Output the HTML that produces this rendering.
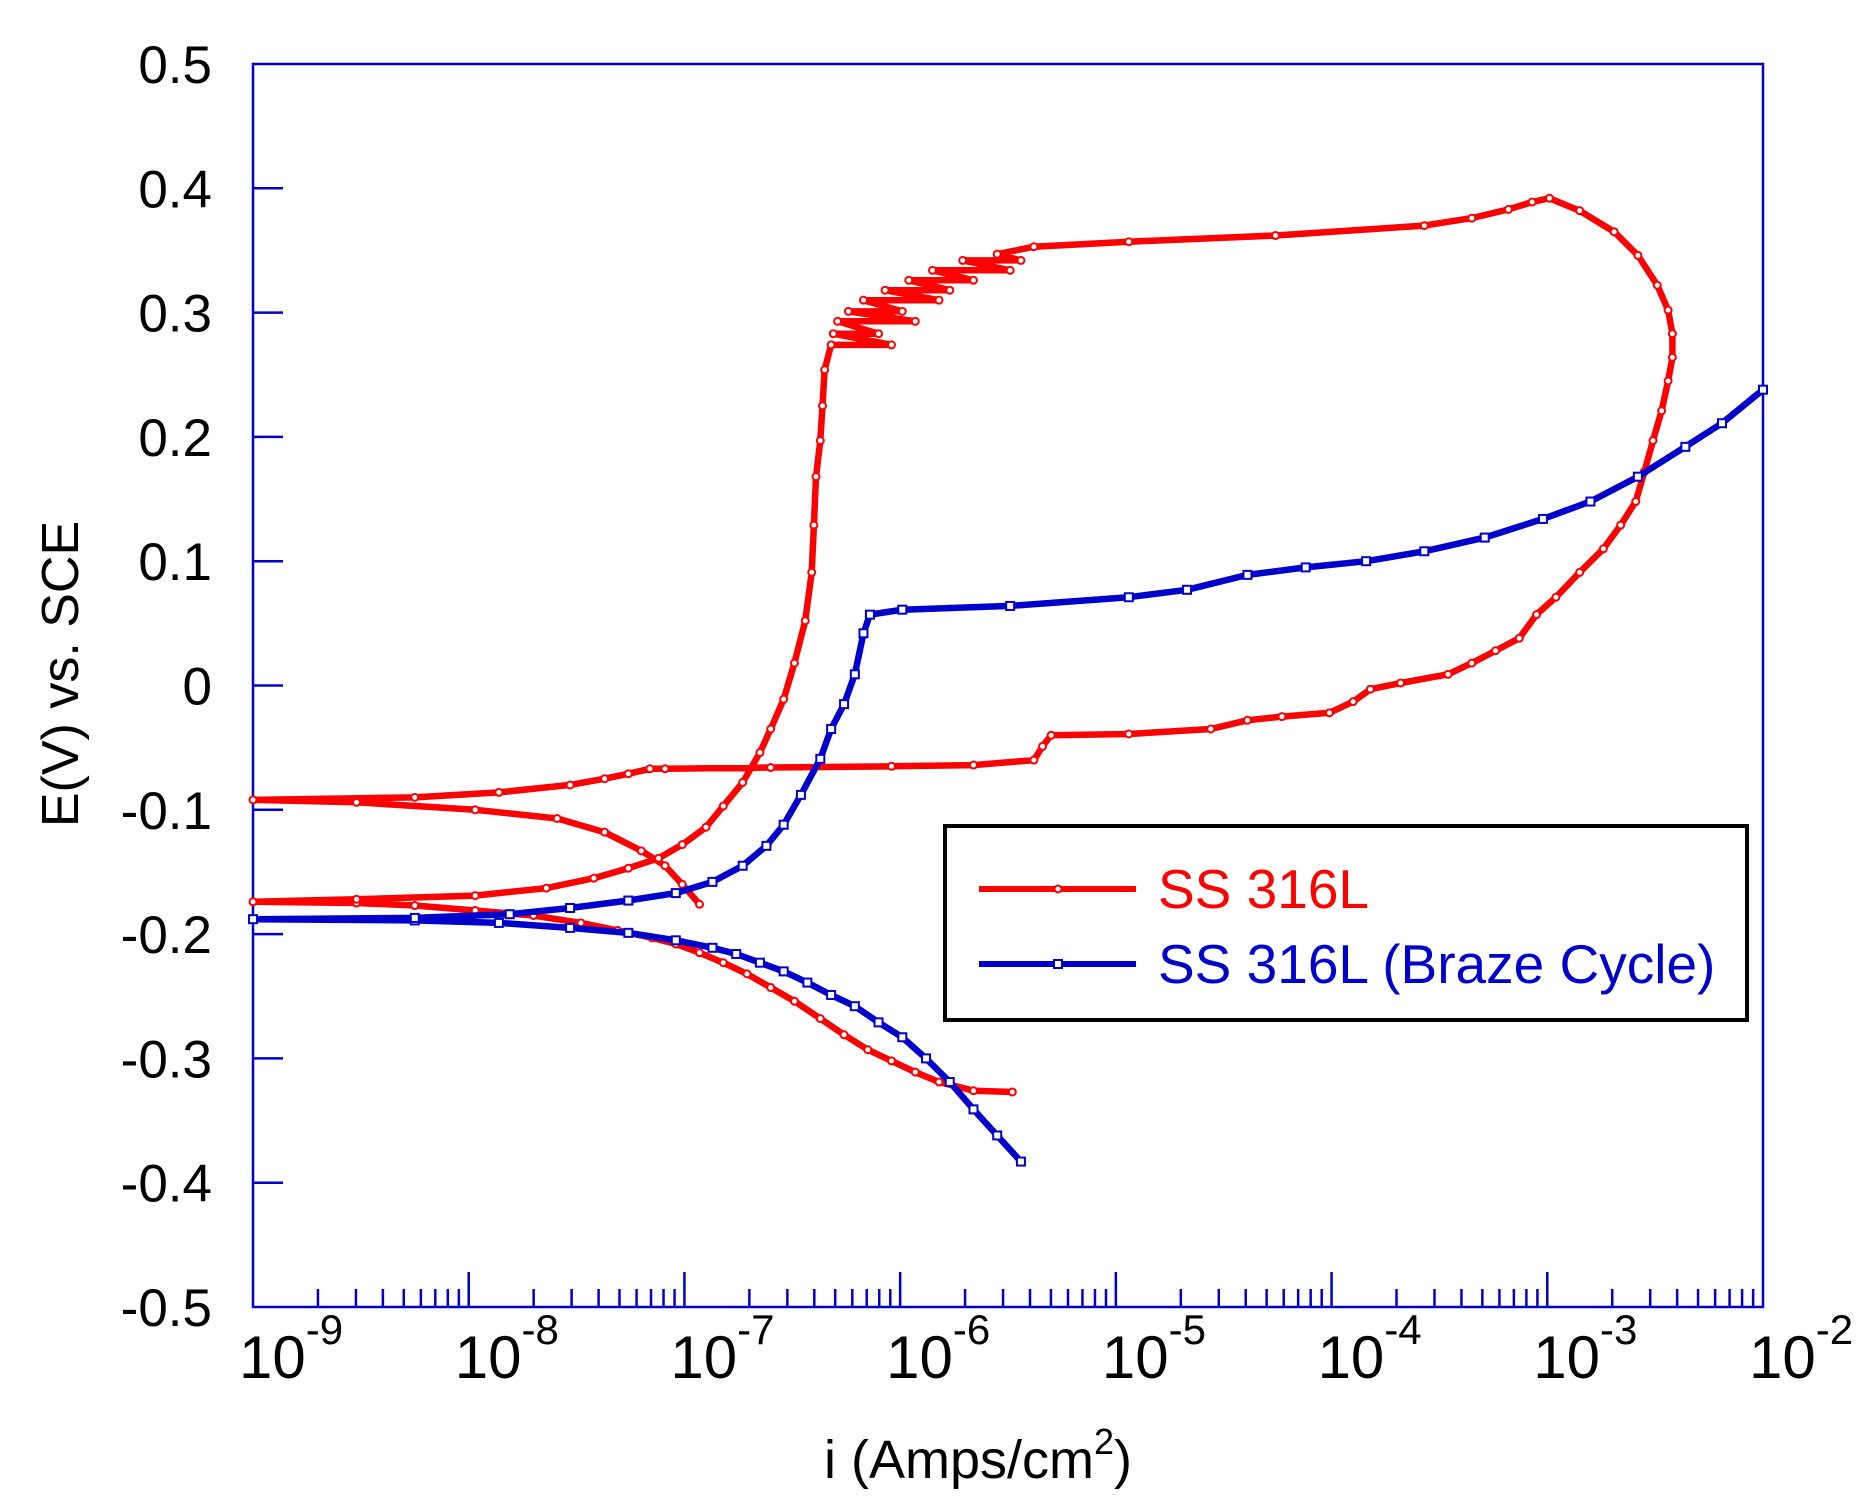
<!DOCTYPE html>
<html><head><meta charset="utf-8"><style>
html,body{margin:0;padding:0;background:#fff}
svg{display:block;font-family:"Liberation Sans",Arial,sans-serif}
</style></head><body>
<svg id="chart" width="1862" height="1510" viewBox="0 0 1862 1510" xmlns="http://www.w3.org/2000/svg">
<g id="axes"></g>
<g id="series"></g>
<text transform="translate(78,674) rotate(-90)" text-anchor="middle" font-size="52" fill="#000">E(V) vs. SCE</text>
<text x="978" y="1478" text-anchor="middle" font-size="54" fill="#000">i (Amps/cm<tspan font-size="36" dy="-24">2</tspan><tspan dy="24">)</tspan></text>
<g>
<rect x="945" y="826" width="802" height="194" fill="#fff" stroke="#000" stroke-width="4"/>
<line x1="979" y1="889" x2="1136" y2="889" stroke="#ff0000" stroke-width="6"/>
<circle cx="1058" cy="889" r="3.5" fill="#fff" stroke="#ff0000" stroke-width="2"/>
<text x="1158" y="908" font-size="55" fill="#ff0000">SS 316L</text>
<line x1="979" y1="964" x2="1136" y2="964" stroke="#0000cc" stroke-width="6"/>
<rect x="1054" y="960" width="8" height="8" fill="#fff" stroke="#0000cc" stroke-width="2"/>
<text x="1158" y="983" font-size="55" fill="#0000cc">SS 316L (Braze Cycle)</text>
</g>
</svg>
<script>
// Data: log10(i) and E(V)
const redLogI=[-5.48,-5.66,-5.82,-5.93,-6.04,-6.15,-6.26,-6.37,-6.49,-6.60,-6.71,-6.82,-6.93,-7.04,-7.15,-7.31,-7.48,-7.70,-7.97,-8.25,-8.52,-9.00,
-8.52,-7.97,-7.64,-7.42,-7.26,-7.12,-7.01,-6.90,-6.82,-6.73,-6.65,-6.60,-6.54,-6.49,-6.44,-6.41,-6.40,-6.39,-6.37,-6.36,-6.35,
-6.32,-6.04,-6.31,-6.10,-6.29,-5.93,-6.24,-5.99,-6.17,-5.82,-6.07,-5.77,-5.96,-5.66,-5.85,-5.49,-5.71,-5.44,-5.55,-5.38,
-4.94,-4.26,-3.57,-3.35,-3.18,-3.07,-2.99,-2.85,-2.69,-2.58,-2.49,-2.44,-2.42,-2.42,-2.44,-2.47,-2.51,-2.55,-2.59,-2.66,-2.74,-2.85,-2.96,-3.05,-3.13,-3.24,-3.35,-3.46,-3.68,-3.82,-3.90,-4.01,-4.23,-4.39,-4.56,-4.94,-5.30,-5.34,-5.38,-5.66,-6.04,-6.60,-7.09,-7.16,-7.26,-7.37,-7.53,-7.86,-8.25,-9.00,
-8.52,-7.97,-7.59,-7.37,-7.20,-7.09,-7.01,-6.93];
const redE=[-0.327,-0.326,-0.319,-0.311,-0.302,-0.293,-0.281,-0.268,-0.254,-0.243,-0.232,-0.223,-0.215,-0.208,-0.203,-0.197,-0.191,-0.185,-0.181,-0.177,-0.175,-0.174,
-0.172,-0.169,-0.163,-0.155,-0.147,-0.139,-0.128,-0.114,-0.097,-0.078,-0.054,-0.035,-0.011,0.018,0.052,0.091,0.129,0.168,0.197,0.225,0.254,
0.274,0.274,0.283,0.283,0.293,0.293,0.301,0.301,0.310,0.310,0.318,0.318,0.326,0.326,0.334,0.334,0.342,0.342,0.347,0.353,
0.357,0.362,0.370,0.376,0.383,0.389,0.392,0.382,0.365,0.346,0.322,0.302,0.283,0.264,0.245,0.221,0.197,0.172,0.148,0.129,0.110,0.091,0.071,0.057,0.038,0.028,0.018,0.009,0.002,-0.003,-0.013,-0.022,-0.025,-0.028,-0.035,-0.039,-0.040,-0.049,-0.060,-0.064,-0.065,-0.066,-0.067,-0.067,-0.071,-0.075,-0.080,-0.086,-0.090,-0.092,
-0.094,-0.100,-0.107,-0.118,-0.133,-0.145,-0.160,-0.176];
const blueLogI=[-5.44,-5.55,-5.66,-5.77,-5.88,-5.99,-6.10,-6.21,-6.32,-6.43,-6.54,-6.65,-6.76,-6.87,-7.04,-7.26,-7.53,-7.86,-8.25,-9.00,
-8.25,-7.81,-7.53,-7.26,-7.04,-6.87,-6.73,-6.62,-6.54,-6.46,-6.37,-6.32,-6.26,-6.21,-6.17,-6.14,-5.99,-5.49,-4.94,-4.67,-4.39,-4.12,-3.84,-3.57,-3.29,-3.02,-2.80,-2.58,-2.36,-2.19,-2.00];
const blueE=[-0.383,-0.362,-0.341,-0.319,-0.300,-0.283,-0.271,-0.258,-0.249,-0.239,-0.230,-0.223,-0.216,-0.211,-0.205,-0.199,-0.195,-0.191,-0.189,-0.188,
-0.187,-0.184,-0.179,-0.173,-0.167,-0.158,-0.145,-0.129,-0.112,-0.088,-0.059,-0.035,-0.015,0.009,0.042,0.057,0.061,0.064,0.071,0.077,0.089,0.095,0.100,0.108,0.119,0.134,0.148,0.168,0.192,0.211,0.238];
const xDecades=[-9,-8,-7,-6,-5,-4,-3,-2];
const yTicks=[0.5,0.4,0.3,0.2,0.1,0,-0.1,-0.2,-0.3,-0.4,-0.5];
const yTickLabels=["0.5","0.4","0.3","0.2","0.1","0","-0.1","-0.2","-0.3","-0.4","-0.5"];

const L=253,R=1763,T=64,B=1307;
const X=v=>L+(v-(-9))/7*(R-L);
const Y=e=>T+(0.5-e)/1.0*(B-T);
const NS="http://www.w3.org/2000/svg";
function mk(tag,attrs,parent){const el=document.createElementNS(NS,tag);for(const k in attrs)el.setAttribute(k,attrs[k]);parent.appendChild(el);return el;}
const axes=document.getElementById('axes');
const blue="#0000cc";
let f=mk('path',{d:`M${L},${T}H${R}V${B}H${L}Z`,fill:'none',stroke:blue,'stroke-width':2.5},axes);


yTicks.forEach((v,i)=>{
  if(i>0&&i<yTicks.length-1){
    const t=mk('line',{x1:L,x2:L+30,y1:Y(v),y2:Y(v),stroke:blue,'stroke-width':2.5},axes);
    
    
  }
  const tx=mk('text',{x:212,y:Y(v)+19,'text-anchor':'end','font-size':53,fill:'#000'},axes);
  
  
  tx.textContent=yTickLabels[i];
});
xDecades.forEach((d,i)=>{
  const x=X(d);
  if(i>0&&i<xDecades.length-1){
    const t=mk('line',{x1:x,x2:x,y1:B,y2:B-35,stroke:blue,'stroke-width':2.5},axes);
    
    
  }
  if(i<xDecades.length-1){
    for(let k=2;k<=9;k++){
      const xm=X(d+Math.log10(k));
      const t=mk('line',{x1:xm,x2:xm,y1:B,y2:B-18,stroke:blue,'stroke-width':2.5},axes);
      
      
    }
  }
  const tx=mk('text',{x:x-14,y:1378,'font-size':60,fill:'#000'},axes);
  
  
  tx.textContent='10';
  const sp=mk('tspan',{'font-size':42,dy:-34},tx);
  sp.textContent=String(d);
});
const series=document.getElementById('series');
function draw(lx,ey,color,name,marker){
  const d=lx.map((v,i)=>(i?'L':'M')+X(v).toFixed(1)+','+Y(ey[i]).toFixed(1)).join('');
  const p=mk('path',{d:d,fill:'none',stroke:color,'stroke-width':6.5,'stroke-linejoin':'round','stroke-linecap':'round'},series);
  
  
  lx.forEach((v,i)=>{
    let m;
    if(marker==='circle') m=mk('circle',{cx:X(v),cy:Y(ey[i]),r:3.5,fill:'#fff',stroke:color,'stroke-width':2},series);
    else m=mk('rect',{x:X(v)-4,y:Y(ey[i])-4,width:8,height:8,fill:'#fff',stroke:color,'stroke-width':2},series);
    
    
  });
}
draw(redLogI,redE,'#ff0000','ss316l','circle');
draw(blueLogI,blueE,blue,'ss316l-braze','square');
</script>
</body></html>
